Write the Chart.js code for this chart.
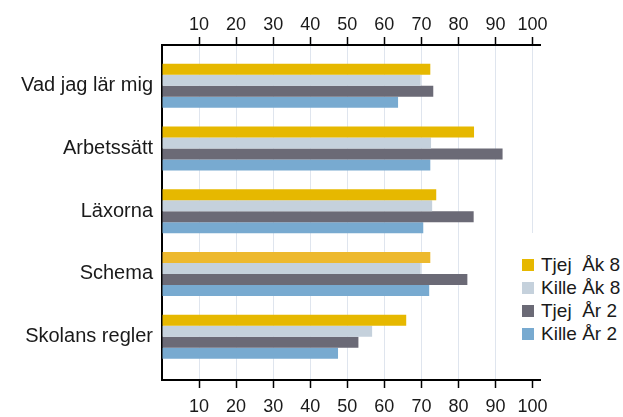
<!DOCTYPE html>
<html>
<head>
<meta charset="utf-8">
<script src="https://cdn.jsdelivr.net/npm/chart.js@4.4.0/dist/chart.umd.min.js"></script>
<style>
    html, body { margin: 0; padding: 0; background: #fff; }
    #wrap { position: relative; width: 623px; height: 417px; }
    #legend {
        position: absolute; left: 510px; top: 233px; width: 113px; height: 146px;
        background: #fff; font-family: 'Liberation Sans', Arial, sans-serif;
        font-size: 19px; color: #1a1a1a;
    }
    .item { position: absolute; left: 12px; height: 22px; line-height: 22px; white-space: pre; padding-left: 19px; }
    .swatch { position: absolute; left: 0; top: 5px; width: 12px; height: 12px; }
</style>
</head>
<body>
<div id="wrap">
    <canvas id="chart" width="623" height="417"></canvas>
    <div id="legend"></div>
</div>
<script>
// Data
const categories = ['Vad jag lär mig', 'Arbetssätt', 'Läxorna', 'Schema', 'Skolans regler'];
const seriesNames = ['Tjej  Åk 8', 'Kille Åk 8', 'Tjej  År 2', 'Kille År 2'];
const tjejAk8 = [72.4, 84.2, 74.0, 72.4, 65.9];
const killeAk8 = [69.8, 72.6, 72.9, 69.8, 56.7];
const tjejAr2 = [73.2, 91.9, 84.1, 82.4, 53.0];
const killeAr2 = [63.7, 72.4, 70.5, 72.1, 47.5];
const xTickStep = 10;

const seriesColors = ['#e6b800', '#c5d1dc', '#6b6a76', '#78aad0'];
const fontFamily = "'Liberation Sans', Arial, sans-serif";

const toPoints = (values) => values.map((v, i) => ({ x: v, y: i }));

const hideZero = (color) => (ctx) => (ctx.tick && ctx.tick.value === 0 ? 'rgba(0,0,0,0)' : color);

const valueAxis = (position, padding, height) => ({
    type: 'linear',
    position: position,
    min: 0,
    max: 102,
    ticks: {
        stepSize: xTickStep,
        includeBounds: false,
        autoSkip: false,
        maxRotation: 0,
        padding: padding,
        color: '#1a1a1a',
        font: { family: fontFamily, size: 18 },
        callback: (v) => (v === 0 ? '' : v)
    },
    grid: {
        color: hideZero('#dfe5ee'),
        tickColor: hideZero('#000'),
        tickLength: 8,
        tickWidth: 1.5,
        lineWidth: 1,
        drawOnChartArea: position === 'bottom'
    },
    border: { color: '#000', width: 2 },
    afterFit: (scale) => { scale.height = height; }
});

const buildLegend = () => {
    const legend = document.getElementById('legend');
    seriesNames.forEach((name, i) => {
        const item = document.createElement('div');
        item.className = 'item';
        item.style.top = (21 + i * 23) + 'px';
        item.innerHTML = `<span class="swatch" style="background:${seriesColors[i]}"></span>${name}`;
        legend.appendChild(item);
    });
};

const createChart = () => {
    const ctx = document.getElementById('chart').getContext('2d');
    const allSeries = [tjejAk8, killeAk8, tjejAr2, killeAr2];

    return new Chart(ctx, {
        type: 'bar',
        data: {
            datasets: allSeries.map((values, i) => ({
                label: seriesNames[i],
                data: toPoints(values),
                backgroundColor: i === 0
                    ? values.map((v, j) => (j === 3 ? '#edb92e' : seriesColors[0]))
                    : seriesColors[i],
                borderWidth: 0,
                categoryPercentage: 0.7,
                barPercentage: 1.0
            }))
        },
        options: {
            indexAxis: 'y',
            responsive: false,
            animation: false,
            layout: { padding: { left: 0, right: 83, top: 0, bottom: 0 } },
            plugins: {
                legend: { display: false },
                tooltip: { enabled: false }
            },
            scales: {
                x: valueAxis('bottom', 8, 37),
                x2: valueAxis('top', 1.5, 45),
                y: {
                    type: 'linear',
                    position: 'left',
                    reverse: true,
                    offset: false,
                    min: -0.65,
                    max: 4.69,
                    ticks: {
                        stepSize: 1,
                        includeBounds: false,
                        autoSkip: false,
                        padding: 9,
                        color: '#1a1a1a',
                        font: { family: fontFamily, size: 20 },
                        callback: (v) => categories[v] || ''
                    },
                    grid: { display: false, drawTicks: false, offset: false },
                    border: { color: '#000', width: 2 },
                    afterFit: (scale) => { scale.width = 162; }
                }
            }
        }
    });
};

document.addEventListener('DOMContentLoaded', () => {
    buildLegend();
    createChart();
});
</script>
</body>
</html>
